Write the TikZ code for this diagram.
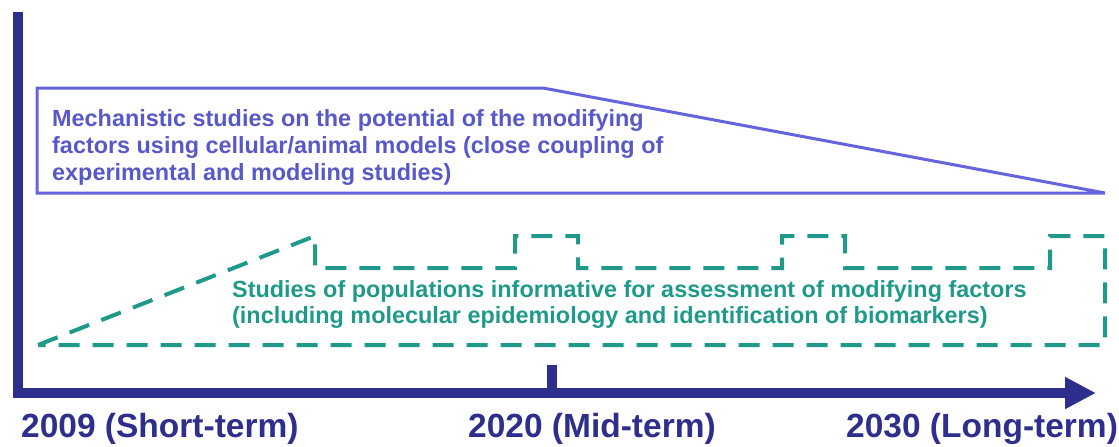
\documentclass[tikz,border=0pt]{standalone}
\usepackage{fontspec}
\setmainfont{Liberation Sans}
\usetikzlibrary{arrows.meta}
\definecolor{axisblue}{RGB}{46,46,140}
\definecolor{boxblue}{RGB}{100,100,222}
\definecolor{boxtext}{RGB}{88,88,200}
\definecolor{teal}{RGB}{31,154,138}
\tikzset{
  axisline/.style={axisblue, line width=9.5pt},
  mechbox/.style={boxblue, line width=3pt, line join=miter},
  popbox/.style={teal, line width=4pt, dash pattern=on 21pt off 13pt},
  yearlabel/.style={anchor=base west, inner sep=0pt, text=axisblue, font=\bfseries\fontsize{33.5}{40}\selectfont},
  mechtext/.style={anchor=base west, inner sep=0pt, text=boxtext, align=left, font=\bfseries\fontsize{23.4}{26.8}\selectfont},
  poptext/.style={anchor=base west, inner sep=0pt, text=teal, align=left, font=\bfseries\fontsize{23.4}{26.5}\selectfont},
}
\begin{document}
\begin{tikzpicture}[x=1pt,y=-1pt]
\useasboundingbox (0,0) rectangle (1119,447);
% axes
\coordinate (ytop) at (18,12);
\coordinate (ybot) at (18,398);
\coordinate (xstart) at (13,393);
\coordinate (xend) at (1096,393);
\coordinate (tickbase) at (552,393);
\coordinate (ticktop) at (552,365);
\draw[axisline] (ytop) -- (ybot);
\draw[axisline, -{Triangle[length=31pt,width=30pt]}] (xstart) -- (xend);
\draw[axisline] (tickbase) -- (ticktop);
% mechanistic box
\draw[mechbox] (37,88) -- (543,88) -- (1105,193) -- (37,193) -- cycle;
\node[mechtext] (mech) at (52,180) {Mechanistic studies on the potential of the modifying\\factors using cellular/animal models (close coupling of\\experimental and modeling studies)};
% population box
\draw[popbox] (38,345) -- (315,236) -- (315,268) -- (515,268) -- (515,236) -- (578,236) -- (578,268)
  -- (782,268) -- (782,236) -- (845,236) -- (845,268) -- (1050,268) -- (1050,236) -- (1105,236)
  -- (1105,345) -- cycle;
\node[poptext] (pop) at (232,323.5) {Studies of populations informative for assessment of modifying factors\\(including molecular epidemiology and identification of biomarkers)};
% year labels
\node[yearlabel] (y2009) at (21,437) {2009 (Short-term)};
\node[yearlabel] (y2020) at (468,437) {2020 (Mid-term)};
\node[yearlabel] (y2030) at (846,437) {2030 (Long-term)};
\end{tikzpicture}
\end{document}
